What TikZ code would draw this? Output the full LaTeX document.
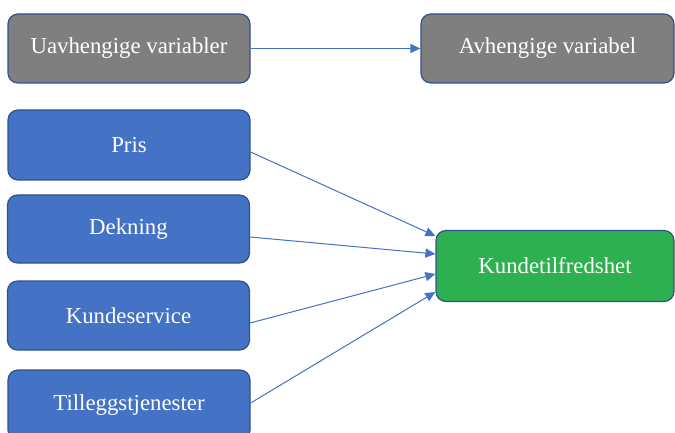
\documentclass[tikz,border=0pt]{standalone}
\usepackage{fontspec}
\setmainfont{Liberation Serif}
\usetikzlibrary{arrows.meta,positioning}
\definecolor{boxgray}{HTML}{7F7F7F}
\definecolor{boxblue}{HTML}{4472C4}
\definecolor{boxgreen}{RGB}{46,176,80}
\definecolor{edgeblue}{HTML}{2F528F}

\begin{document}
\begin{tikzpicture}[
    x=1pt, y=-1pt,
    block/.style={rectangle, draw=edgeblue, line width=1.2pt, fill=boxblue, rounded corners=10pt, minimum height=70pt, minimum width=242pt, inner sep=0pt, align=center, text=white, font=\fontsize{22.8}{27}\selectfont},
    headbox/.style={block, fill=boxgray},
    target/.style={block, fill=boxgreen},
    arrow/.style={-{Triangle[length=10pt,width=9pt]}, line width=1pt, draw=boxblue}
]
\useasboundingbox (0,0) rectangle (675,433);

% header row
\node[headbox, minimum height=69pt] (uavh) at (129,48.5) {Uavhengige variabler};
\node[headbox, minimum height=69pt, minimum width=253pt] (avh) at (547.5,48.5) {Avhengige variabel};

% independent variables
\node[block] (pris) at (129,145) {Pris};
\node[block, minimum height=68pt] (dekning) at (128.5,229) {Dekning};
\node[block, minimum height=69pt] (service) at (128.5,315.5) {Kundeservice};
\node[block] (tillegg) at (129,405) {Tilleggstjenester};

% dependent variable
\node[target, minimum width=238pt, minimum height=71pt] (kunde) at (555,266) {Kundetilfredshet};

\draw[arrow] (uavh) -- (avh);
\draw[arrow] ([yshift=-7pt]pris.east) -- ([yshift=30pt]kunde.west);
\draw[arrow] ([yshift=-8pt]dekning.east) -- ([yshift=12pt]kunde.west);
\draw[arrow] ([yshift=-7.5pt]service.east) -- ([yshift=-8pt]kunde.west);
\draw[arrow] ([yshift=2pt]tillegg.east) -- ([yshift=-26pt]kunde.west);

\end{tikzpicture}
\end{document}
